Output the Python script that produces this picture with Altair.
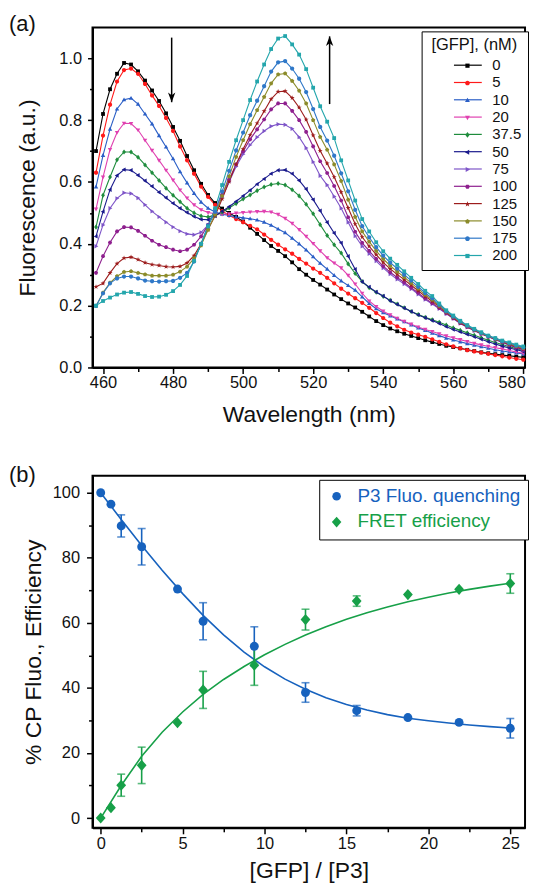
import altair as alt
import pandas as pd

FONT = "Liberation Sans"

# ---------------- panel (a) data ----------------
wavelengths = list(range(458, 581, 2))
conc_labels = ["0", "5", "10", "20", "37.5", "50", "75", "100", "125", "150", "175", "200"]
colors_a = ["#000000", "#FF1A1A", "#2A5EC6", "#E040B0", "#1E8C3C", "#1A1A8C",
            "#7E55C8", "#8E1F8E", "#9C1C1C", "#8B8B2A", "#2F78C8", "#24A6AC"]
marker_paths = [
    "M-0.9,-0.9H0.9V0.9H-0.9Z",
    "M1,0A1,1,0,1,1,-1,0A1,1,0,1,1,1,0Z",
    "M0,-1.1L1.05,0.75H-1.05Z",
    "M0,1.1L1.05,-0.75H-1.05Z",
    "M0,-1.2L0.9,0L0,1.2L-0.9,0Z",
    "M-1.1,0L0.75,-1.05V1.05Z",
    "M1.1,0L-0.75,-1.05V1.05Z",
    "M1,0L0.5,0.87H-0.5L-1,0L-0.5,-0.87H0.5Z",
    "M0,-1.25L0.29,-0.4L1.19,-0.39L0.48,0.16L0.74,1.01L0,0.5L-0.74,1.01L-0.48,0.16L-1.19,-0.39L-0.29,-0.4Z",
    "M0,-1.05L1,-0.32L0.62,0.85H-0.62L-1,-0.32Z",
    "M1,0A1,1,0,1,1,-1,0A1,1,0,1,1,1,0Z",
    "M-0.9,-0.9H0.9V0.9H-0.9Z",
]

s_0 = [.70, .82, .90, .95, .985, .98, .958, .928, .896, .862,
       .822, .778, .733, .684, .638, .594, .558, .532, .514, .500,
       .487, .472, .452, .432, .412, .393, .377, .36, .34, .318,
       .30, .283, .268, .252, .236, .221, .207, .194, .18, .165,
       .15, .137, .126, .117, .109, .102, .095, .088, .082, .076,
       .07, .066, .062, .057, .053, .049, .046, .043, .04, .038,
       .035, .033]
s_5 = [.63, .75, .85, .925, .962, .967, .95, .917, .88, .846,
       .807, .765, .715, .67, .627, .585, .552, .526, .506, .492,
       .48, .47, .458, .447, .43, .413, .397, .382, .368, .351,
       .336, .32, .306, .29, .272, .255, .239, .224, .209, .193,
       .176, .16, .145, .133, .122, .113, .106, .099, .091, .083,
       .075, .068, .062, .056, .052, .048, .044, .04, .036, .032,
       .028, .025]
s_10 = [.584, .686, .771, .836, .866, .871, .852, .82, .788, .75,
        .713, .675, .633, .597, .563, .535, .515, .503, .496, .492,
        .487, .484, .481, .477, .47, .46, .448, .436, .418, .40,
        .38, .358, .337, .318, .298, .28, .265, .25, .228, .207,
        .19, .177, .167, .157, .148, .138, .128, .12, .111, .103,
        .095, .089, .083, .077, .072, .067, .062, .057, .053, .05,
        .047, .044]
s_20 = [.512, .616, .705, .76, .79, .789, .768, .735, .702, .67,
        .638, .606, .574, .548, .526, .51, .501, .497, .496, .497,
        .499, .501, .503, .504, .505, .503, .495, .482, .466, .446,
        .424, .401, .377, .355, .338, .322, .298, .27, .24, .215,
        .197, .182, .17, .159, .149, .14, .131, .123, .116, .109,
        .102, .096, .09, .084, .078, .073, .068, .064, .06, .055,
        .05, .046]
s_37 = [.454, .557, .616, .672, .697, .697, .68, .655, .63, .605,
        .58, .557, .536, .515, .5, .49, .487, .492, .502, .516,
        .53, .545, .558, .572, .584, .592, .595, .59, .575, .555,
        .528, .497, .462, .427, .397, .37, .335, .304, .278, .258,
        .243, .23, .217, .205, .193, .181, .171, .162, .154, .146,
        .137, .128, .12, .112, .104, .096, .088, .081, .074, .067,
        .061, .055]
s_50 = [.424, .504, .575, .621, .64, .638, .622, .604, .586, .567,
        .549, .531, .515, .501, .488, .479, .478, .49, .505, .52,
        .537, .555, .573, .593, .61, .627, .638, .639, .627, .605,
        .577, .543, .507, .47, .435, .403, .36, .318, .277, .26,
        .244, .231, .216, .204, .192, .181, .17, .161, .152, .142,
        .132, .123, .115, .107, .099, .091, .083, .076, .069, .063,
        .057, .052]
s_75 = [.392, .461, .515, .547, .565, .563, .548, .526, .505, .487,
        .47, .454, .441, .432, .429, .437, .46, .50, .55, .60,
        .65, .69, .72, .745, .765, .78, .787, .785, .772, .745,
        .71, .665, .62, .59, .553, .515, .47, .425, .392, .368,
        .344, .322, .302, .285, .27, .254, .237, .22, .205, .19,
        .174, .158, .142, .13, .119, .108, .099, .09, .081, .072,
        .064, .056]
s_100 = [.306, .36, .404, .44, .454, .453, .442, .426, .41, .397,
         .389, .381, .376, .381, .397, .424, .461, .513, .559, .608,
         .657, .699, .738, .77, .802, .835, .854, .854, .83, .80,
         .762, .715, .667, .629, .587, .54, .486, .439, .403, .377,
         .351, .328, .308, .291, .275, .258, .241, .223, .208, .192,
         .175, .159, .143, .131, .12, .109, .10, .091, .082, .073,
         .065, .057]
s_125 = [.261, .272, .306, .336, .354, .357, .349, .339, .333, .33,
         .326, .325, .327, .338, .362, .40, .447, .491, .545, .601,
         .657, .706, .752, .79, .829, .868, .892, .894, .872, .841,
         .802, .751, .701, .66, .616, .567, .516, .464, .422, .392,
         .365, .34, .319, .301, .284, .266, .248, .23, .214, .196,
         .178, .161, .145, .132, .121, .11, .10, .092, .083, .075,
         .067, .06]
s_150 = [.198, .242, .274, .295, .309, .311, .306, .301, .297, .297,
         .297, .30, .31, .326, .353, .395, .445, .494, .555, .618,
         .681, .735, .787, .832, .875, .919, .948, .951, .927, .895,
         .854, .80, .746, .704, .657, .603, .543, .487, .44, .407,
         .377, .351, .329, .31, .292, .273, .255, .235, .219, .199,
         .18, .163, .147, .134, .122, .111, .101, .093, .084, .077,
         .069, .062]
s_175 = [.199, .24, .272, .288, .294, .294, .288, .281, .279, .278,
         .279, .28, .29, .306, .343, .40, .46, .504, .569, .636,
         .702, .76, .816, .863, .91, .957, .987, .991, .967, .934,
         .891, .836, .778, .734, .685, .628, .57, .51, .457, .421,
         .389, .362, .339, .32, .30, .281, .261, .241, .224, .203,
         .182, .165, .149, .135, .123, .112, .102, .094, .085, .079,
         .071, .065]
s_200 = [.20, .215, .226, .236, .242, .244, .238, .231, .228, .229,
         .235, .247, .267, .296, .345, .40, .456, .515, .59, .665,
         .735, .80, .865, .925, .98, 1.03, 1.064, 1.072, 1.045, 1.012,
         .965, .905, .845, .795, .742, .67, .605, .54, .48, .44,
         .405, .376, .352, .332, .311, .29, .27, .248, .231, .207,
         .185, .168, .151, .137, .125, .114, .103, .095, .087, .081,
         .074, .068]
spectra = [s_0, s_5, s_10, s_20, s_37, s_50, s_75, s_100, s_125, s_150, s_175, s_200]

arrow_x = [479.6, 524.7]
arrow_tail = [1.067, 0.852]
arrow_tip = [0.858, 1.071]

# ---------------- panel (b) data ----------------
ratio = [0, 0.625, 1.25, 2.5, 4.6875, 6.25, 9.375, 12.5, 15.625, 18.75, 21.875, 25]
quench = [100, 96.5, 89.8, 83.4, 70.4, 60.5, 52.8, 38.6, 33.0, 30.9, 29.4, 27.6]
quench_err = [0, 0, 3.4, 5.6, 0, 5.7, 6.0, 3.0, 1.6, 0, 0, 3.0]
fret = [0, 3.2, 10.1, 16.2, 29.3, 39.4, 47.0, 61.0, 66.7, 68.7, 70.3, 72.1]
fret_err = [0, 0, 3.4, 5.6, 0, 5.7, 6.2, 3.2, 1.6, 0, 0, 3.0]
fit_x = [0, 1.25, 2.5, 3.75, 5, 6.25, 7.5, 8.75, 10, 11.25, 12.5, 13.75, 15,
         16.25, 17.5, 18.75, 20, 21.25, 22.5, 23.75, 25]
quench_fit = [100, 91.8, 83.8, 76.2, 69.0, 62.3, 56.3, 51.0, 46.5, 42.7, 39.6,
              37.0, 34.9, 33.2, 31.8, 30.7, 29.9, 29.2, 28.6, 28.1, 27.7]
fret_fit = [0, 10.0, 19.0, 26.4, 32.6, 38.0, 42.6, 46.6, 50.2, 53.4, 56.3,
            58.8, 61.1, 63.1, 64.9, 66.5, 67.9, 69.2, 70.3, 71.3, 72.2]
series_b = ["P3 Fluo. quenching", "FRET efficiency"]
colors_b = ["#1762BE", "#17A048"]

for s in spectra:
    assert len(s) == len(wavelengths), len(s)

# ---------------- panel (a) ----------------
rows = []
for lab, vals in zip(conc_labels, spectra):
    for w, v in zip(wavelengths, vals):
        rows.append({"wl": w, "val": v, "conc": lab})
df_a = pd.DataFrame(rows)

xsa = alt.Scale(domain=[457, 580.5], nice=False, zero=False)
ysa = alt.Scale(domain=[0, 1.1], nice=False, zero=False)

LEG_AX, LEG_AY = 331, 4
leg_lines = alt.Legend(
    title="[GFP], (nM)", orient="none", legendX=LEG_AX, legendY=LEG_AY,
    strokeColor="black", fillColor="white", padding=6,
    titleFontSize=16.5, titleFontWeight="normal", titleFont=FONT, titleAnchor="middle",
    titleColor="#111111", titlePadding=4,
    labelFontSize=15, labelFont=FONT, labelColor="#111111",
    symbolType="M-7,0H7", symbolSize=16, symbolStrokeWidth=1.2,
    rowPadding=1.4, symbolOffset=33, labelOffset=17, zindex=1,
)
leg_marks = alt.Legend(
    title=None, orient="none", legendX=LEG_AX, legendY=LEG_AY + 21,
    padding=6, labelFontSize=15, labelFont=FONT, labelOpacity=0,
    symbolSize=22, symbolOpacity=1, rowPadding=1.4, symbolOffset=32.6, labelOffset=17,
    zindex=2,
)

lines_a = alt.Chart(df_a).mark_line(strokeWidth=1.1).encode(
    x=alt.X("wl:Q", scale=xsa, axis=alt.Axis(orient="bottom", values=list(range(460, 581, 20)),
                                             title="Wavelength (nm)", tickSize=6, labelPadding=1,
                                             titlePadding=13, labelFlush=3, labelFlushOffset=2)),
    y=alt.Y("val:Q", scale=ysa, axis=alt.Axis(orient="left", values=[0, 0.2, 0.4, 0.6, 0.8, 1.0],
                                              format=".1f", title="Fluorescence (a.u.)", tickSize=5,
                                              labelPadding=6, titlePadding=19)),
    color=alt.Color("conc:N", scale=alt.Scale(domain=conc_labels, range=colors_a), legend=leg_lines),
    detail="conc:N",
)
points_a = alt.Chart(df_a).mark_point(filled=True, size=18, opacity=1).encode(
    x=alt.X("wl:Q", scale=xsa, axis=alt.Axis(orient="bottom", values=list(range(470, 580, 20)),
                                             labels=False, domain=False, tickSize=4, title=None)),
    y=alt.Y("val:Q", scale=ysa, axis=alt.Axis(orient="left", values=[0.1, 0.3, 0.5, 0.7, 0.9],
                                              labels=False, domain=False, tickSize=3, title=None)),
    color=alt.Color("conc:N", scale=alt.Scale(domain=conc_labels, range=colors_a), legend=leg_marks),
    shape=alt.Shape("conc:N", scale=alt.Scale(domain=conc_labels, range=marker_paths), legend=leg_marks),
)

df_arrow = pd.DataFrame({"x": arrow_x, "tail": arrow_tail, "tip": arrow_tip})
arrow_rules = alt.Chart(df_arrow).mark_rule(color="black", strokeWidth=1.5).encode(
    x=alt.X("x:Q", scale=xsa, axis=None),
    y=alt.Y("tail:Q", scale=ysa, axis=None),
    y2="tip:Q",
)
head_down = alt.Chart(df_arrow.iloc[[0]]).mark_point(
    shape="M0,0L-0.6,-1.6L0,-1.15L0.6,-1.6Z", size=150, filled=True, color="black", opacity=1
).encode(x=alt.X("x:Q", scale=xsa, axis=None), y=alt.Y("tip:Q", scale=ysa, axis=None))
head_up = alt.Chart(df_arrow.iloc[[1]]).mark_point(
    shape="M0,0L-0.6,1.6L0,1.15L0.6,1.6Z", size=150, filled=True, color="black", opacity=1
).encode(x=alt.X("x:Q", scale=xsa, axis=None), y=alt.Y("tip:Q", scale=ysa, axis=None))

panel_a = alt.layer(lines_a, points_a, arrow_rules, head_down, head_up).resolve_axis(
    x="independent", y="independent"
).resolve_scale(color="independent", shape="independent").properties(
    width=435, height=342,
    title=alt.TitleParams("(a)", anchor="start", frame="group", dx=-84, offset=-9,
                          fontSize=22, fontWeight="normal", font=FONT, color="#111111"),
)

# ---------------- panel (b) ----------------
xsb = alt.Scale(domain=[-0.5, 25.9], nice=False, zero=False)
ysb = alt.Scale(domain=[-3, 105.2], nice=False, zero=False)

df_pts = pd.DataFrame({
    "ratio": ratio + ratio,
    "val": quench + fret,
    "series": [series_b[0]] * len(ratio) + [series_b[1]] * len(ratio),
})
LEG_BX, LEG_BY = 228, 4
LEG_FS = 19
leg_q = alt.Legend(
    title=None, orient="none", legendX=LEG_BX, legendY=LEG_BY,
    strokeColor="black", fillColor="white", padding=7,
    labelFontSize=LEG_FS, labelFont=FONT, labelLimit=400, labelColor=colors_b[0],
    labelExpr="datum.label == '" + series_b[1] + "' ? '' : datum.label",
    symbolSize=75, rowPadding=6, symbolOffset=1, labelOffset=11.5, zindex=1,
)
leg_f = alt.Legend(
    title=None, orient="none", legendX=LEG_BX, legendY=LEG_BY + LEG_FS + 6,
    padding=7, labelFontSize=LEG_FS, labelFont=FONT, labelLimit=400, labelColor=colors_b[1],
    symbolSize=75, symbolOpacity=0, symbolStrokeWidth=0, rowPadding=6, symbolOffset=1,
    labelOffset=11.5, zindex=2,
)

df_fit = pd.DataFrame({"x": fit_x, "q": quench_fit, "f": fret_fit})
fit_q = alt.Chart(df_fit).mark_line(color=colors_b[0], strokeWidth=1.6).encode(
    x=alt.X("x:Q", scale=xsb, axis=alt.Axis(orient="bottom", values=[0, 5, 10, 15, 20, 25],
                                            title="[GFP] / [P3]", tickSize=6, labelPadding=2,
                                            titlePadding=7)),
    y=alt.Y("q:Q", scale=ysb, axis=alt.Axis(orient="left", values=[0, 20, 40, 60, 80, 100],
                                            title="% CP Fluo., Efficiency", tickSize=6,
                                            labelPadding=7, titlePadding=7)),
)
fit_f = alt.Chart(df_fit).transform_calculate(series="'" + series_b[1] + "'").mark_line(
    strokeWidth=1.6
).encode(
    x=alt.X("x:Q", scale=xsb, axis=alt.Axis(orient="bottom", values=[2.5, 7.5, 12.5, 17.5, 22.5],
                                            labels=False, domain=False, tickSize=4, title=None)),
    y=alt.Y("f:Q", scale=ysb, axis=alt.Axis(orient="left", values=[10, 30, 50, 70, 90],
                                            labels=False, domain=False, tickSize=4, title=None)),
    color=alt.Color("series:N", scale=alt.Scale(domain=[series_b[1]], range=[colors_b[1]]),
                    legend=leg_f),
)

df_eq = pd.DataFrame([{"ratio": r, "lo": v - e, "hi": v + e}
                      for r, v, e in zip(ratio, quench, quench_err) if e > 0])
df_ef = pd.DataFrame([{"ratio": r, "lo": v - e, "hi": v + e}
                      for r, v, e in zip(ratio, fret, fret_err) if e > 0])
err_q = alt.Chart(df_eq).mark_errorbar(ticks=True, size=8, thickness=1.6, color=colors_b[0]).encode(
    x=alt.X("ratio:Q", scale=xsb, axis=None),
    y=alt.Y("lo:Q", scale=ysb, axis=None),
    y2="hi:Q",
)
err_f = alt.Chart(df_ef).mark_errorbar(ticks=True, size=8, thickness=1.6, color=colors_b[1]).encode(
    x=alt.X("ratio:Q", scale=xsb, axis=None),
    y=alt.Y("lo:Q", scale=ysb, axis=None),
    y2="hi:Q",
)
pts_b = alt.Chart(df_pts).mark_point(filled=True, size=80, opacity=1).encode(
    x=alt.X("ratio:Q", scale=xsb, axis=None),
    y=alt.Y("val:Q", scale=ysb, axis=None),
    color=alt.Color("series:N", scale=alt.Scale(domain=series_b, range=colors_b), legend=leg_q),
    shape=alt.Shape("series:N", scale=alt.Scale(domain=series_b,
                                                range=["circle", "M0,-1.25L1.1,0L0,1.25L-1.1,0Z"]),
                    legend=leg_q),
)

panel_b = alt.layer(fit_q, fit_f, err_q, err_f, pts_b).resolve_axis(
    x="independent", y="independent"
).resolve_scale(color="independent", shape="independent").properties(
    width=435, height=354,
    title=alt.TitleParams("(b)", anchor="start", frame="group", dx=-84, offset=-11,
                          fontSize=22, fontWeight="normal", font=FONT, color="#111111"),
)

chart = alt.vconcat(panel_a, panel_b, spacing=35).resolve_scale(
    color="independent", shape="independent"
).properties(
    padding={"left": 0, "top": 2, "right": 1, "bottom": 0}
).configure(
    font=FONT,
).configure_view(
    stroke="black", strokeWidth=2
).configure_axis(
    grid=False, domainColor="black", domainWidth=2, tickColor="black", tickWidth=1.5,
    labelFont=FONT, titleFont=FONT, labelFontSize=16.5, titleFontSize=23,
    titleFontWeight="normal", labelColor="#111111", titleColor="#111111",
)

chart.save("out.html", embed_options={"renderer": "svg", "actions": False})
